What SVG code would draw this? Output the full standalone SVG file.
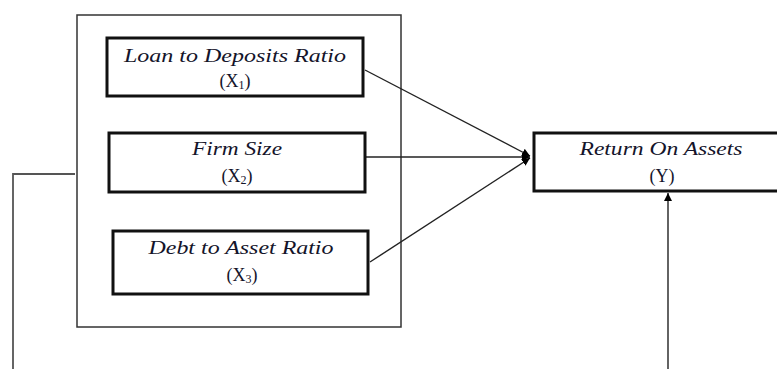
<svg xmlns="http://www.w3.org/2000/svg" width="777" height="369" viewBox="0 0 777 369">
<style>
.frame{fill:none;stroke:#333;stroke-width:1.5}
.box{fill:#fff;stroke:#111;stroke-width:3}
.lbl{font-family:"Liberation Serif","DejaVu Serif","Times New Roman",serif;font-style:italic;font-size:18px;fill:#14142a;text-anchor:middle}
.sub{font-family:"Liberation Serif","DejaVu Serif","Times New Roman",serif;font-size:18px;fill:#14142a;text-anchor:middle}
.sm{font-size:12px}
.con{fill:none;stroke:#222;stroke-width:1.4}
.gray{fill:none;stroke:#555;stroke-width:1.8}
</style>
<defs>
<marker id="ah" viewBox="0 0 10 10" refX="10" refY="5" markerWidth="8" markerHeight="8" markerUnits="userSpaceOnUse" orient="auto">
<path d="M0,0 L10,5 L0,10 z" fill="#000"/>
</marker>
</defs>
<rect width="777" height="369" fill="#fff"/>
<rect id="group-frame" class="frame" x="77" y="15" width="324" height="312"/>
<g id="connectors">
<line class="con" x1="365" y1="70" x2="530" y2="156" marker-end="url(#ah)"/>
<line class="con" x1="365" y1="157" x2="530" y2="157" marker-end="url(#ah)"/>
<line class="con" x1="370" y1="262" x2="530" y2="158" marker-end="url(#ah)"/>
<line class="con" x1="668" y1="369" x2="668" y2="193" marker-end="url(#ah)"/>
<polyline class="gray" points="75,174 13,174 13,369"/>
</g>
<g id="x1">
<rect class="box" x="107" y="38" width="256" height="58"/>
<text class="lbl" x="235" y="62" textLength="222" lengthAdjust="spacingAndGlyphs">Loan to Deposits Ratio</text>
<text class="sub" x="235" y="87">(X<tspan class="sm" dy="2">1</tspan><tspan dy="-2">)</tspan></text>
</g>
<g id="x2">
<rect class="box" x="109" y="133" width="256" height="59"/>
<text class="lbl" x="237" y="155" textLength="90" lengthAdjust="spacingAndGlyphs">Firm Size</text>
<text class="sub" x="237" y="182">(X<tspan class="sm" dy="2">2</tspan><tspan dy="-2">)</tspan></text>
</g>
<g id="x3">
<rect class="box" x="113" y="231" width="255" height="63"/>
<text class="lbl" x="241" y="254" textLength="185" lengthAdjust="spacingAndGlyphs">Debt to Asset Ratio</text>
<text class="sub" x="242" y="281">(X<tspan class="sm" dy="2">3</tspan><tspan dy="-2">)</tspan></text>
</g>
<g id="y">
<rect class="box" x="534" y="133" width="256" height="58"/>
<text class="lbl" x="661" y="155" textLength="163" lengthAdjust="spacingAndGlyphs">Return On Assets</text>
<text class="sub" x="662" y="182">(Y)</text>
</g>
</svg>
